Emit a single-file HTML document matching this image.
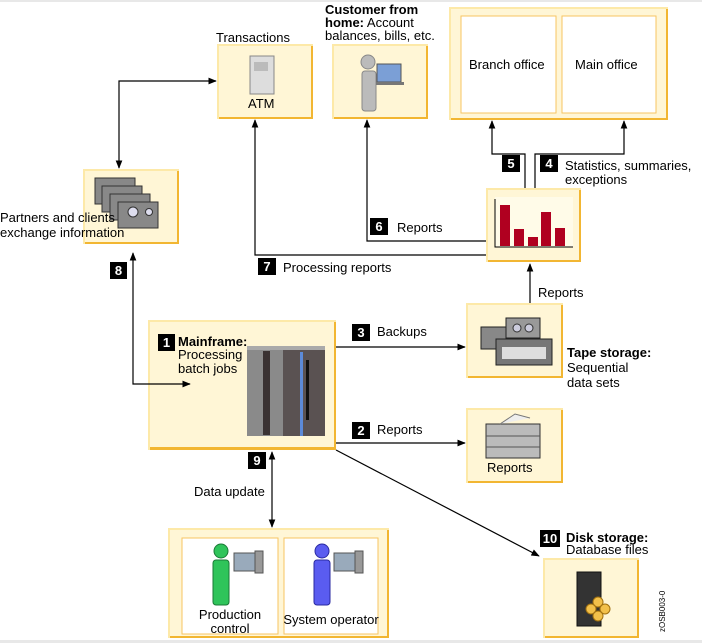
<!DOCTYPE html>
<html><head><meta charset="utf-8"><style>
html,body{margin:0;padding:0;background:#fff;}
svg{display:block;font-family:"Liberation Sans",sans-serif;}
</style></head><body>
<svg width="702" height="643" viewBox="0 0 702 643" xmlns="http://www.w3.org/2000/svg">
<defs>
<marker id="a" viewBox="0 0 10 10" refX="9" refY="5" markerWidth="7" markerHeight="7" orient="auto-start-reverse"><path d="M0,1 L10,5 L0,9 z" fill="#000"/></marker>
</defs>
<rect x="0" y="0" width="702" height="2" fill="#e8e8e8"/>
<rect x="0" y="640" width="702" height="3" fill="#e8e8e8"/>

<g id="boxes">
<rect x="449" y="7" width="219" height="113" fill="#fde9a8"/><rect x="451" y="9" width="217" height="111" fill="#f2b632"/><rect x="451" y="9" width="215" height="109" fill="#fff6d6"/>
<rect x="461" y="16" width="95" height="97" fill="#fff" stroke="#f7c462"/>
<rect x="562" y="16" width="94" height="97" fill="#fff" stroke="#f7c462"/>
<rect x="486" y="188" width="95" height="74" fill="#fde9a8"/><rect x="488" y="190" width="93" height="72" fill="#f2b632"/><rect x="488" y="190" width="91" height="70" fill="#fff6d6"/>
<rect x="217" y="44" width="96" height="75" fill="#fde9a8"/><rect x="219" y="46" width="94" height="73" fill="#f2b632"/><rect x="219" y="46" width="92" height="71" fill="#fff6d6"/>
<rect x="332" y="44" width="96" height="75" fill="#fde9a8"/><rect x="334" y="46" width="94" height="73" fill="#f2b632"/><rect x="334" y="46" width="92" height="71" fill="#fff6d6"/>
<rect x="83" y="169" width="96" height="75" fill="#fde9a8"/><rect x="85" y="171" width="94" height="73" fill="#f2b632"/><rect x="85" y="171" width="92" height="71" fill="#fff6d6"/>
<rect x="148" y="320" width="188" height="130" fill="#fde9a8"/><rect x="150" y="322" width="186" height="128" fill="#f2b632"/><rect x="150" y="322" width="184" height="125" fill="#fff6d6"/>
<rect x="466" y="303" width="97" height="75" fill="#fde9a8"/><rect x="468" y="305" width="95" height="73" fill="#f2b632"/><rect x="468" y="305" width="93" height="71" fill="#fff6d6"/>
<rect x="466" y="408" width="97" height="75" fill="#fde9a8"/><rect x="468" y="410" width="95" height="73" fill="#f2b632"/><rect x="468" y="410" width="93" height="71" fill="#fff6d6"/>
<rect x="168" y="528" width="221" height="110" fill="#fde9a8"/><rect x="170" y="530" width="219" height="108" fill="#f2b632"/><rect x="170" y="530" width="217" height="106" fill="#fff6d6"/>
<rect x="182" y="538" width="96" height="96" fill="#fff" stroke="#f7c462"/>
<rect x="284" y="538" width="94" height="96" fill="#fff" stroke="#f7c462"/>
<rect x="543" y="558" width="96" height="80" fill="#fde9a8"/><rect x="545" y="560" width="94" height="78" fill="#f2b632"/><rect x="545" y="560" width="92" height="76" fill="#fff6d6"/>
</g>

<g fill="none" stroke="#000" stroke-width="1.2">
<path d="M119,168 V81 H216" marker-start="url(#a)" marker-end="url(#a)"/>
<path d="M486,255 H255 V120" marker-end="url(#a)"/>
<path d="M486,241 H367 V120" marker-end="url(#a)"/>
<path d="M525,188 V154 H492 V121" marker-end="url(#a)"/>
<path d="M535,188 V154 H624 V121" marker-end="url(#a)"/>
<path d="M530,303 V264" marker-end="url(#a)"/>
<path d="M336,347 H465" marker-end="url(#a)"/>
<path d="M336,443 H465" marker-end="url(#a)"/>
<path d="M190,384 H133 V253" marker-start="url(#a)" marker-end="url(#a)"/>
<path d="M272,452 V527" marker-start="url(#a)" marker-end="url(#a)"/>
<path d="M336,450 L539,556" marker-end="url(#a)"/>
</g>

<rect x="250" y="56" width="24" height="38" fill="#ddd" stroke="#888"/><rect x="254" y="62" width="14" height="9" fill="#bbb"/>
<g fill="#bbb" stroke="#888"><circle cx="368" cy="62" r="7"/><rect x="362" y="71" width="14" height="40" rx="3"/></g>
<rect x="377" y="64" width="24" height="18" fill="#7b9fd6" stroke="#555"/><rect x="376" y="82" width="28" height="3" fill="#777"/>
<g fill="#888" stroke="#333"><rect x="95" y="178" width="40" height="26"/><rect x="102" y="186" width="40" height="26"/><rect x="110" y="194" width="40" height="26"/><rect x="118" y="202" width="40" height="26"/></g>
<circle cx="133" cy="212" r="5" fill="#dde" stroke="#333"/><circle cx="149" cy="212" r="3.5" fill="#dde" stroke="#333"/>
<rect x="495" y="197" width="78" height="50" fill="#fffbe8"/>
<path d="M495,199 V247 H573" stroke="#000" fill="none"/>
<g fill="#b00020"><rect x="500" y="205" width="10" height="41"/><rect x="514" y="229" width="10" height="17"/><rect x="528" y="237" width="10" height="9"/><rect x="541" y="212" width="10" height="34"/><rect x="555" y="228" width="10" height="18"/></g>
<rect x="247" y="348" width="36" height="88" fill="#8a8a8a"/><rect x="283" y="348" width="42" height="88" fill="#5a5252"/>
<rect x="263" y="351" width="7" height="84" fill="#3a3232"/><rect x="300" y="352" width="3" height="84" fill="#5c8ad8"/><rect x="306" y="360" width="3" height="60" fill="#111"/>
<rect x="247" y="346" width="78" height="4" fill="#aaa"/>
<rect x="481" y="327" width="28" height="22" fill="#888" stroke="#222"/>
<rect x="506" y="318" width="34" height="20" fill="#999" stroke="#222"/><circle cx="517" cy="328" r="4" fill="#ccd" stroke="#333"/><circle cx="529" cy="328" r="4" fill="#ccd" stroke="#333"/>
<rect x="496" y="339" width="56" height="26" fill="#777" stroke="#222"/><rect x="502" y="347" width="44" height="12" fill="#ddd"/>
<rect x="486" y="424" width="54" height="34" fill="#bbb" stroke="#333"/><path d="M500,424 L515,414 L530,418" stroke="#777" fill="#eee"/>
<line x1="486" y1="436" x2="540" y2="436" stroke="#555"/><line x1="486" y1="447" x2="540" y2="447" stroke="#555"/>
<text x="487" y="472" font-size="13">Reports</text>
<g fill="#2fc45a" stroke="#1a7a36"><circle cx="221" cy="551" r="7"/><rect x="213" y="560" width="16" height="45" rx="3"/></g>
<rect x="234" y="553" width="22" height="18" fill="#9ab" stroke="#555"/><rect x="255" y="551" width="8" height="22" fill="#999" stroke="#555"/>
<g fill="#5a5cf0" stroke="#2a2aa0"><circle cx="322" cy="551" r="7"/><rect x="314" y="560" width="16" height="45" rx="3"/></g>
<rect x="334" y="553" width="22" height="18" fill="#9ab" stroke="#555"/><rect x="355" y="551" width="8" height="22" fill="#999" stroke="#555"/>
<rect x="577" y="572" width="24" height="54" fill="#333" stroke="#111"/>
<g fill="#f2c04a" stroke="#a07010"><circle cx="598" cy="602" r="5"/><circle cx="591" cy="609" r="5"/><circle cx="605" cy="609" r="5"/><circle cx="598" cy="616" r="5"/></g>

<g fill="#000"><rect x="158" y="334" width="17" height="17"/><rect x="352" y="324" width="18" height="17"/><rect x="352" y="422" width="18" height="17"/><rect x="540" y="155" width="18" height="17"/><rect x="502" y="155" width="18" height="17"/><rect x="370" y="218" width="18" height="17"/><rect x="258" y="258" width="18" height="17"/><rect x="110" y="262" width="17" height="17"/><rect x="248" y="452" width="18" height="17"/><rect x="540" y="530" width="20" height="17"/></g>
<g fill="#fff" font-size="13" font-weight="bold" text-anchor="middle">
<text x="166.5" y="347">1</text><text x="361" y="337">3</text><text x="361" y="435">2</text><text x="549" y="168">4</text><text x="511" y="168">5</text><text x="379" y="231">6</text><text x="267" y="271">7</text><text x="118.5" y="275">8</text><text x="257" y="465">9</text><text x="550" y="543">10</text>
</g>

<g font-size="13" fill="#000">
<text x="469" y="69">Branch office</text>
<text x="575" y="69">Main office</text>
<text x="216" y="42">Transactions</text>
<text x="248" y="108">ATM</text>
<text x="325" y="14" font-weight="bold">Customer from</text>
<text x="325" y="27"><tspan font-weight="bold">home:</tspan> Account</text>
<text x="325" y="40">balances, bills, etc.</text>
<text x="565" y="170">Statistics, summaries,</text>
<text x="565" y="184">exceptions</text>
<text x="397" y="232">Reports</text>
<text x="283" y="272">Processing reports</text>
<text x="0" y="222">Partners and clients</text>
<text x="0" y="237">exchange information</text>
<text x="178" y="346" font-weight="bold">Mainframe:</text>
<text x="178" y="359">Processing</text>
<text x="178" y="373">batch jobs</text>
<text x="377" y="336">Backups</text>
<text x="377" y="434">Reports</text>
<text x="538" y="297">Reports</text>
<text x="567" y="357" font-weight="bold">Tape storage:</text>
<text x="567" y="372">Sequential</text>
<text x="567" y="387">data sets</text>
<text x="194" y="496">Data update</text>
<text x="566" y="542" font-weight="bold">Disk storage:</text>
<text x="566" y="554">Database files</text>
<text x="230" y="619" text-anchor="middle">Production</text>
<text x="230" y="633" text-anchor="middle">control</text>
<text x="331" y="624" text-anchor="middle">System operator</text>
</g>
<text x="0" y="0" font-size="8" transform="translate(665,632) rotate(-90)">zOSB003-0</text>
</svg>
</body></html>
